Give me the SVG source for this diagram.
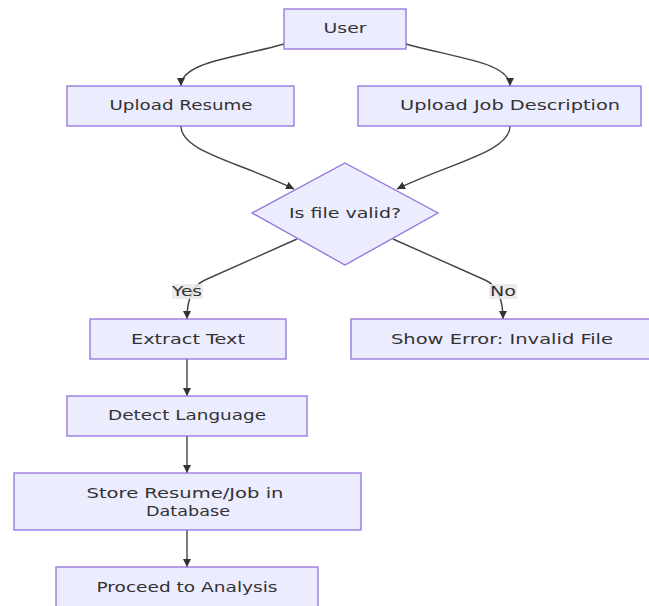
<svg xmlns="http://www.w3.org/2000/svg" width="649" height="606" viewBox="0 0 649 606">
<defs>
<style>
.node{fill:#ECECFF;stroke:#9370DB;stroke-width:1.3}
.lbl{font-family:"DejaVu Sans",Verdana,sans-serif;font-size:13.5px;fill:#333;text-anchor:middle}
.edge{fill:none;stroke:#444;stroke-width:1.4}
.ebg{fill:#e8e8e8;opacity:0.85}
</style>
<marker id="arr" viewBox="0 0 10 10" refX="10" refY="5" markerWidth="8" markerHeight="8" markerUnits="userSpaceOnUse" orient="auto">
<path d="M0,0 L10,5 L0,10 z" fill="#333"/>
</marker>
</defs>
<rect width="649" height="606" fill="#ffffff"/>
<g id="connectors">
<path class="edge" d="M284,44 C235,58 181,62 181,86" marker-end="url(#arr)"/>
<path class="edge" d="M406,44 C455,58 510,62 510,86" marker-end="url(#arr)"/>
<path class="edge" d="M181,126 C181,152 240,162 294,189" marker-end="url(#arr)"/>
<path class="edge" d="M510,126 C510,152 450,163 397,189" marker-end="url(#arr)"/>
<path class="edge" d="M297,239 L205,280 Q187,288 187,319" marker-end="url(#arr)"/>
<path class="edge" d="M393,239 L485,280 Q503,288 503,319" marker-end="url(#arr)"/>
<path class="edge" d="M187,359 L187,396" marker-end="url(#arr)"/>
<path class="edge" d="M187,436 L187,473" marker-end="url(#arr)"/>
<path class="edge" d="M187,530 L187,567" marker-end="url(#arr)"/>
<g id="label-yes">
<rect class="ebg" x="172" y="284" width="31" height="15"/>
<text class="lbl" x="187" y="296" textLength="30" lengthAdjust="spacingAndGlyphs">Yes</text>
</g>
<g id="label-no">
<rect class="ebg" x="489" y="284" width="28" height="15"/>
<text class="lbl" x="503" y="296" textLength="26" lengthAdjust="spacingAndGlyphs">No</text>
</g>
</g>
<g id="user">
<rect class="node" x="284" y="9" width="122" height="40"/>
<text class="lbl" x="345" y="33" textLength="43" lengthAdjust="spacingAndGlyphs">User</text>
</g>
<g id="upload-resume">
<rect class="node" x="67" y="86" width="227" height="40"/>
<text class="lbl" x="181" y="110" textLength="143" lengthAdjust="spacingAndGlyphs">Upload Resume</text>
</g>
<g id="upload-jd">
<rect class="node" x="358" y="86" width="283" height="40"/>
<text class="lbl" x="510" y="110" textLength="220" lengthAdjust="spacingAndGlyphs">Upload Job Description</text>
</g>
<g id="valid">
<polygon class="node" points="345,163 438,213 345,265 252,213"/>
<text class="lbl" x="345" y="218" textLength="112" lengthAdjust="spacingAndGlyphs">Is file valid?</text>
</g>
<g id="extract">
<rect class="node" x="90" y="319" width="196" height="40"/>
<text class="lbl" x="188" y="344" textLength="114" lengthAdjust="spacingAndGlyphs">Extract Text</text>
</g>
<g id="error">
<rect class="node" x="351" y="319" width="300" height="40"/>
<text class="lbl" x="502" y="344" textLength="222" lengthAdjust="spacingAndGlyphs">Show Error: Invalid File</text>
</g>
<g id="detect">
<rect class="node" x="67" y="396" width="240" height="40"/>
<text class="lbl" x="187" y="420" textLength="158" lengthAdjust="spacingAndGlyphs">Detect Language</text>
</g>
<g id="store">
<rect class="node" x="14" y="473" width="347" height="57"/>
<text class="lbl" x="185" y="498" textLength="197" lengthAdjust="spacingAndGlyphs">Store Resume/Job in</text>
<text class="lbl" x="188" y="516" textLength="84" lengthAdjust="spacingAndGlyphs">Database</text>
</g>
<g id="proceed">
<rect class="node" x="56" y="567" width="262" height="45"/>
<text class="lbl" x="187" y="592" textLength="181" lengthAdjust="spacingAndGlyphs">Proceed to Analysis</text>
</g>
</svg>
